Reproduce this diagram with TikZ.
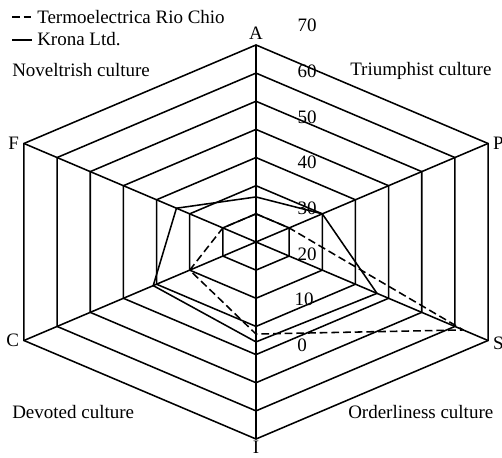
\documentclass[tikz,border=0pt]{standalone}
\usepackage{fontspec}
\setmainfont{Liberation Serif}
\usetikzlibrary{positioning}

\begin{document}
\begin{tikzpicture}[
x=0.025cm, y=0.025cm,
font=\fontsize{13.5pt}{16pt}\selectfont,
ring/.style={draw=black, line width=1.1pt},
rio/.style={draw=black, line width=1.1pt, line join=round, dash pattern=on 5.5pt off 2.8pt},
krona/.style={draw=black, line width=1.1pt, line join=round},
axisname/.style={inner sep=0.333em},
culture/.style={inner sep=0pt, anchor=base west},
scalenum/.style={inner sep=0pt, anchor=base},
]
\useasboundingbox (0,0) rectangle (502,458);

\coordinate (O) at (256,216);

\begin{scope}[shift={(O)}, x=0.8285cm, y=0.7035cm]
% the seven rings
\draw[ring] (0,1) -- (1,.5) -- (1,-.5) -- (0,-1) -- (-1,-.5) -- (-1,.5) -- cycle;
\draw[ring] (0,2) -- (2,1) -- (2,-1) -- (0,-2) -- (-2,-1) -- (-2,1) -- cycle;
\draw[ring] (0,3) -- (3,1.5) -- (3,-1.5) -- (0,-3) -- (-3,-1.5) -- (-3,1.5) -- cycle;
\draw[ring] (0,4) -- (4,2) -- (4,-2) -- (0,-4) -- (-4,-2) -- (-4,2) -- cycle;
\draw[ring] (0,5) -- (5,2.5) -- (5,-2.5) -- (0,-5) -- (-5,-2.5) -- (-5,2.5) -- cycle;
\draw[ring] (0,6) -- (6,3) -- (6,-3) -- (0,-6) -- (-6,-3) -- (-6,3) -- cycle;
\draw[ring] (0,7) -- (7,3.5) -- (7,-3.5) -- (0,-7) -- (-7,-3.5) -- (-7,3.5) -- cycle;

\coordinate (A) at (0,7);
\coordinate (P) at (7,3.5);
\coordinate (S) at (7,-3.5);
\coordinate (I) at (0,-7);
\coordinate (C) at (-7,-3.5);
\coordinate (F) at (-7,3.5);

\draw[ring] (A) to (I);
\draw[ring] (F) to (S);
\draw[ring] (C) to (P);

% data
\draw[rio] (0,1) -- (1,.5) -- (6.25,-3.125) -- (0,-3.27) -- (-2,-1) -- (-1,.5) -- cycle;
\draw[krona] (0,1.6) -- (2,1) -- (3.65,-1.825) -- (0,-3.55) -- (-3.1,-1.55) -- (-2.4,1.2) -- cycle;
\end{scope}

\node[axisname, above=0pt of A] (nameA) {A};
\node[axisname, right=0pt of P] (nameP) {P};
\node[axisname, right=0pt of S, yshift=-2pt] (nameS) {S};
\node[axisname, inner sep=1pt, below=0pt of I] (nameI) {I};
\node[axisname, left=0pt of C] (nameC) {C};
\node[axisname, left=0pt of F] (nameF) {F};

\node[scalenum] (n70) at (307,426) {70};
\node[scalenum] (n60) at (307,380.3) {60};
\node[scalenum] (n50) at (307,334.6) {50};
\node[scalenum] (n40) at (307,289) {40};
\node[scalenum] (n30) at (307,243.2) {30};
\node[scalenum] (n20) at (307,197.5) {20};
\node[scalenum] (n10) at (304,152) {10};
\node[scalenum] (n0) at (302,106) {0};

\node[culture] (novel) at (12,381) {Noveltrish culture};
\node[culture] (triumph) at (350,382) {Triumphist culture};
\node[culture] (devoted) at (12,39) {Devoted culture};
\node[culture] (order) at (348,39) {Orderliness culture};

% legend
\coordinate (rioa) at (12,441);
\coordinate (riob) at (32,441);
\coordinate (kronaa) at (12,418);
\coordinate (kronab) at (32,418);
\draw[rio] (rioa) -- (riob);
\draw[krona] (kronaa) -- (kronab);
\node[culture] (legrio) at (37,434) {Termoelectrica Rio Chio};
\node[culture] (legkrona) at (37,412) {Krona Ltd.};

\end{tikzpicture}
\end{document}
